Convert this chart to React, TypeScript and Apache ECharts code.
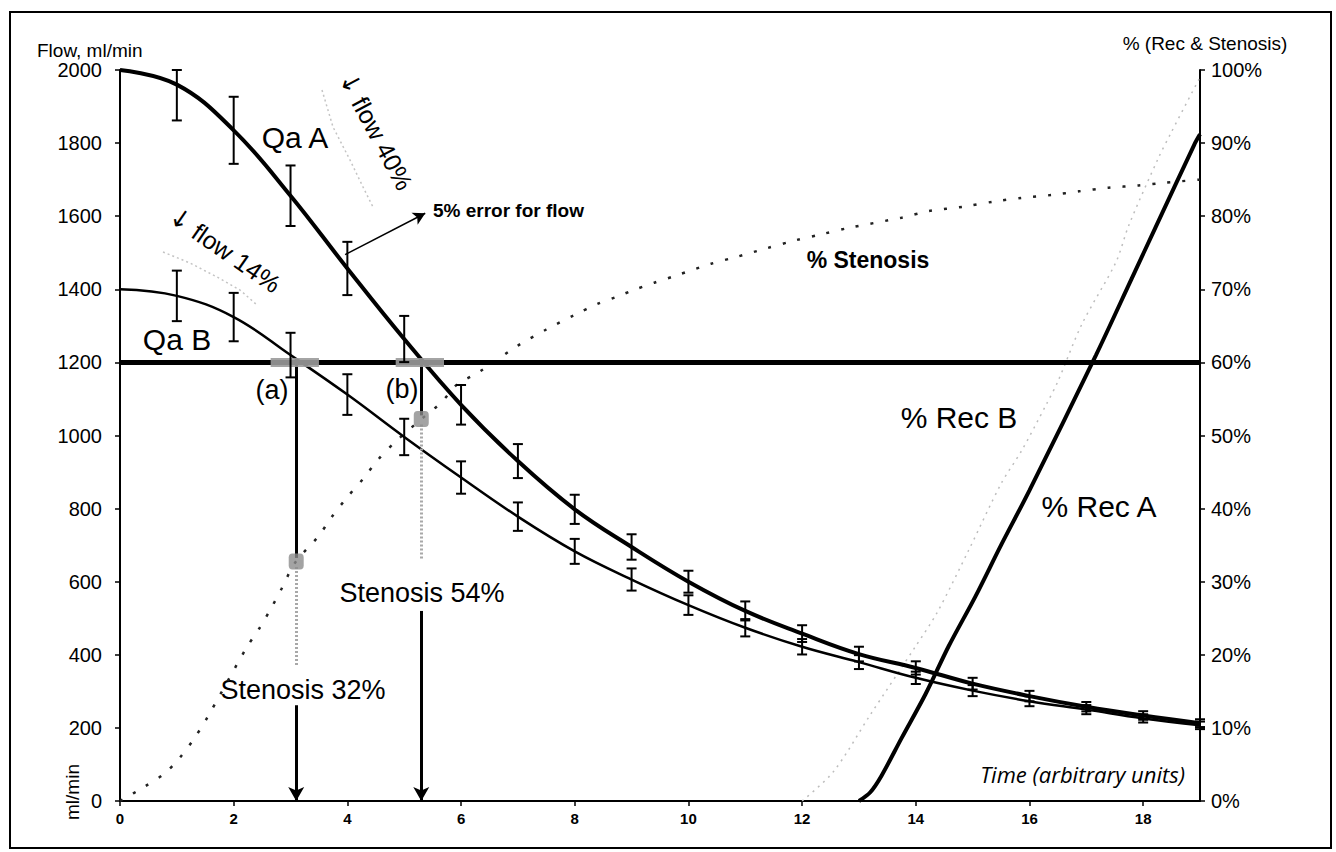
import React, { useEffect, useRef } from "react";
import * as echarts from "echarts";

// ---- data ----
const timeUnits = [0, 1, 2, 3, 4, 5, 6, 7, 8, 9, 10, 11, 12, 13, 14, 15, 16, 17, 18, 19];
const qaA = [2000, 1960, 1835, 1656, 1457, 1264, 1084, 930, 798, 695, 600, 520, 458, 402, 364, 321, 287, 258, 234, 213];
const qaB = [1400, 1382, 1324, 1220, 1112, 996, 885, 778, 683, 606, 536, 474, 422, 380, 337, 302, 273, 250, 226, 207];
const errorFraction = 0.05; // "5% error for flow"
const accessFlow = 1200;

const stenosisX = [0, 0.44, 0.79, 1.05, 1.3, 1.52, 2.22, 2.45, 2.66, 2.84, 3.08, 3.49, 3.71, 3.98, 4.28, 4.54, 4.84, 5.28, 5.65, 5.92, 6.34, 7.0, 7.5, 8.0, 8.4, 8.75, 9.0, 9.4, 9.79, 10.4, 10.83, 11.37, 11.88, 12.38, 12.82, 13.75, 14.23, 14.84, 15.37, 15.86, 16.39, 16.87, 17.39, 17.92, 18.4, 19];
const stenosisPct = [0, 2.0, 3.8, 5.9, 8.5, 11.2, 20.9, 23.6, 26.4, 29.0, 32.6, 36.2, 38.7, 41.4, 44.1, 46.7, 49.1, 52.1, 54.5, 56.9, 58.8, 62.3, 64.5, 66.5, 68.0, 69.0, 69.8, 70.9, 71.9, 73.5, 74.4, 75.6, 76.7, 77.6, 78.4, 79.8, 80.7, 81.3, 82.0, 82.5, 82.9, 83.4, 83.9, 84.2, 84.6, 85.0];

const recAX = [13, 13.2, 13.4, 13.75, 14.17, 14.58, 15.05, 15.5, 16.0, 17.17, 17.8, 18.22, 18.9, 19];
const recAPct = [0, 1.2, 3.5, 8.6, 14.6, 21.2, 28.0, 35.0, 42.5, 61.0, 71.5, 78.5, 89.8, 91.2];

const recBX = [12, 12.55, 13.2, 14.0, 14.37, 14.93, 15.5, 15.86, 16.3, 16.5, 16.92, 17.52, 17.75, 18.27, 18.49, 19];
const recBPct = [0, 4.0, 11.8, 21.2, 25.7, 34.3, 43.4, 47.9, 54.3, 57.4, 65.2, 73.7, 78.8, 88.0, 91.4, 99.0];

// drop-down markers at points (a) and (b)
const dropA = { x: 3.1, stenosisFlow: 655, greyEnd: 368, arrowStart: 262 };
const dropB = { x: 5.3, stenosisFlow: 1045, greyEnd: 660, arrowStart: 520 };
const blobA = [2.65, 3.5];
const blobB = [4.85, 5.7];
const errorArrow = [[3.96, 1495], [5.37, 1608]];

const FONT = "'Liberation Sans', Arial, 'DejaVu Sans', sans-serif";

export default function App() {
  const ref = useRef<HTMLDivElement>(null);

  useEffect(() => {
    if (!ref.current) return;
    const chart = echarts.init(ref.current, undefined, { renderer: "svg" });

    const errData = (vals: number[]) =>
      timeUnits.slice(1).map((x, i) => [x, vals[i + 1] * (1 - errorFraction), vals[i + 1] * (1 + errorFraction)]);

    const renderErr = (params: any, api: any) => {
      const x = api.value(0);
      const lo = api.value(1);
      const hi = Math.min(api.value(2), 2000);
      const pLo = api.coord([x, lo]);
      const pHi = api.coord([x, hi]);
      const w = 5;
      const style = { stroke: "#000", lineWidth: 2 };
      return {
        type: "group",
        children: [
          { type: "line", shape: { x1: pLo[0], y1: pLo[1], x2: pHi[0], y2: pHi[1] }, style },
          { type: "line", shape: { x1: pLo[0] - w, y1: pLo[1], x2: pLo[0] + w, y2: pLo[1] }, style },
          { type: "line", shape: { x1: pHi[0] - w, y1: pHi[1], x2: pHi[0] + w, y2: pHi[1] }, style },
        ],
      };
    };

    const txt = (text: string, x: number, y: number, size: number, extra: any = {}) => ({
      type: "text",
      x,
      y,
      rotation: extra.rotation || 0,
      silent: true,
      style: {
        text,
        fill: "#000",
        fontSize: size,
        fontFamily: extra.family || FONT,
        fontWeight: extra.weight || "normal",
        fontStyle: extra.style || "normal",
        align: extra.align || "center",
        verticalAlign: "middle",
        rich: {
          ar: { fontFamily: "'DejaVu Sans', sans-serif", fontSize: size, fill: "#000" },
          t: { fontFamily: FONT, fontSize: size, fill: "#000" },
        },
      },
    });

    const option: any = {
      animation: false,
      backgroundColor: "#fff",
      grid: { left: 120, right: 136, top: 70, bottom: 51 },
      xAxis: {
        type: "value",
        min: 0,
        max: 19,
        interval: 2,
        splitLine: { show: false },
        axisLine: { lineStyle: { color: "#000", width: 2 } },
        axisTick: { show: true, length: 5, lineStyle: { color: "#000", width: 1.5 } },
        axisLabel: { showMaxLabel: false, color: "#000", fontFamily: FONT, fontWeight: "bold", fontSize: 15, margin: 10 },
      },
      yAxis: [
        {
          type: "value",
          min: 0,
          max: 2000,
          interval: 200,
          splitLine: { show: false },
          axisLine: { show: true, lineStyle: { color: "#000", width: 2 } },
          axisTick: { show: true, length: 5, lineStyle: { color: "#000", width: 1.5 } },
          axisLabel: { color: "#000", fontFamily: FONT, fontSize: 20, margin: 18, formatter: (v: number) => String(v) },
        },
        {
          type: "value",
          min: 0,
          max: 100,
          interval: 10,
          position: "right",
          splitLine: { show: false },
          axisLine: { show: true, lineStyle: { color: "#000", width: 2 } },
          axisTick: { show: true, length: 5, lineStyle: { color: "#000", width: 1.5 } },
          axisLabel: { color: "#000", fontFamily: FONT, fontSize: 20, margin: 11, formatter: "{value}%" },
        },
      ],
      series: [
        {
          name: "% Rec B",
          type: "line",
          yAxisIndex: 1,
          data: recBX.map((x, i) => [x, recBPct[i]]),
          smooth: 0.3,
          symbol: "none",
          lineStyle: { color: "#bdbdbd", width: 1.5, type: [2, 5] },
          silent: true,
        },
        {
          name: "% Stenosis",
          type: "line",
          yAxisIndex: 1,
          data: stenosisX.map((x, i) => [x, stenosisPct[i]]),
          smooth: 0.3,
          symbol: "none",
          lineStyle: { color: "#222", width: 2.5, type: [3, 12] },
          silent: true,
        },
        {
          name: "Access",
          type: "line",
          data: [[0, accessFlow], [19, accessFlow]],
          symbol: "none",
          lineStyle: { color: "#000", width: 5 },
          silent: true,
        },
        {
          name: "Drops",
          type: "line",
          data: [],
          silent: true,
          markLine: {
            silent: true,
            symbol: ["none", "none"],
            label: { show: false },
            lineStyle: { color: "#000", width: 3, type: "solid" },
            data: [
              [{ coord: [dropA.x, accessFlow] }, { coord: [dropA.x, dropA.stenosisFlow + 10] }],
              [{ coord: [dropB.x, accessFlow] }, { coord: [dropB.x, dropB.stenosisFlow + 10] }],
            ],
          },
        },
        {
          name: "Grey drops",
          type: "line",
          data: [],
          silent: true,
          markLine: {
            silent: true,
            symbol: ["none", "none"],
            label: { show: false },
            lineStyle: { color: "#a8a8a8", width: 3, type: [2, 2] },
            data: [
              [{ coord: [dropA.x, dropA.stenosisFlow - 15] }, { coord: [dropA.x, dropA.greyEnd] }],
              [{ coord: [dropB.x, dropB.stenosisFlow - 15] }, { coord: [dropB.x, dropB.greyEnd] }],
            ],
          },
        },
        {
          name: "Arrows",
          type: "line",
          data: [],
          silent: true,
          markLine: {
            silent: true,
            symbol: ["none", "arrow"],
            symbolSize: [12, 14],
            label: { show: false },
            lineStyle: { color: "#000", width: 3, type: "solid" },
            data: [
              [{ coord: [dropA.x, dropA.arrowStart] }, { coord: [dropA.x, 0] }],
              [{ coord: [dropB.x, dropB.arrowStart] }, { coord: [dropB.x, 0] }],
            ],
          },
        },
        {
          name: "Error arrow",
          type: "line",
          data: [],
          silent: true,
          markLine: {
            silent: true,
            symbol: ["none", "arrow"],
            symbolSize: [10, 12],
            label: { show: false },
            lineStyle: { color: "#000", width: 1.5, type: "solid" },
            data: [[{ coord: errorArrow[0] }, { coord: errorArrow[1] }]],
          },
        },
        {
          name: "Qa B",
          type: "line",
          data: timeUnits.map((x, i) => [x, qaB[i]]),
          smooth: 0.4,
          symbol: "none",
          lineStyle: { color: "#000", width: 2.5 },
          silent: true,
        },
        {
          name: "Qa A",
          type: "line",
          data: timeUnits.map((x, i) => [x, qaA[i]]),
          smooth: 0.4,
          symbol: "none",
          lineStyle: { color: "#000", width: 4 },
          silent: true,
        },
        {
          name: "Err A",
          type: "custom",
          renderItem: renderErr,
          data: errData(qaA),
          encode: { x: 0, y: [1, 2] },
          silent: true,
          z: 5,
        },
        {
          name: "Err B",
          type: "custom",
          renderItem: renderErr,
          data: errData(qaB),
          encode: { x: 0, y: [1, 2] },
          silent: true,
          z: 5,
        },
        {
          name: "Blobs line",
          type: "line",
          data: [],
          silent: true,
          z: 6,
          markLine: {
            silent: true,
            symbol: ["none", "none"],
            label: { show: false },
            lineStyle: { color: "#9a9a9a", width: 9, type: "solid", opacity: 0.9 },
            data: [
              [{ coord: [blobA[0], accessFlow] }, { coord: [blobA[1], accessFlow] }],
              [{ coord: [blobB[0], accessFlow] }, { coord: [blobB[1], accessFlow] }],
            ],
          },
        },
        {
          name: "Blobs",
          type: "scatter",
          data: [[dropA.x, dropA.stenosisFlow], [dropB.x, dropB.stenosisFlow]],
          symbol: "roundRect",
          symbolSize: [15, 16],
          itemStyle: { color: "#8c8c8c" },
          silent: true,
          z: 6,
        },
        {
          name: "% Rec A",
          type: "line",
          yAxisIndex: 1,
          data: recAX.map((x, i) => [x, recAPct[i]]),
          smooth: 0.3,
          symbol: "none",
          lineStyle: { color: "#000", width: 4 },
          silent: true,
          z: 7,
        },
      ],
      graphic: [
        {
          type: "rect",
          shape: { x: 10, y: 12, width: 1321, height: 836 },
          style: { fill: "none", stroke: "#000", lineWidth: 2 },
          silent: true,
        },
        {
          type: "polyline",
          shape: { points: [[322, 90], [333, 127], [350, 160], [363, 187], [373, 207]] },
          style: { fill: "none", stroke: "#c4c4c4", lineWidth: 1.5, lineDash: [2, 3] },
          silent: true,
        },
        {
          type: "polyline",
          shape: { points: [[163, 252], [190, 263], [217, 277], [240, 290], [257, 305]] },
          style: { fill: "none", stroke: "#c4c4c4", lineWidth: 1.5, lineDash: [2, 3] },
          silent: true,
        },
        txt("Flow, ml/min", 37, 50, 19, { align: "left" }),
        txt("% (Rec & Stenosis)", 1205, 43, 19),
        txt("ml/min", 72, 792, 19, { rotation: Math.PI / 2 }),
        txt("Qa A", 295, 137, 30),
        txt("Qa B", 177, 339, 30),
        txt("(a)", 272, 390, 27),
        txt("(b)", 402, 389, 27),
        txt("{ar|\u2193}{t| flow 40%}", 376, 131, 25, { rotation: (-62 * Math.PI) / 180 }),
        txt("{ar|\u2193}{t| flow 14%}", 225, 250, 25, { rotation: (-34.6 * Math.PI) / 180 }),
        txt("5% error for flow", 433, 210, 19, { align: "left", weight: "bold" }),
        txt("% Stenosis", 868, 260, 23, { weight: "bold" }),
        txt("Stenosis 32%", 303, 690, 27),
        txt("Stenosis 54%", 422, 593, 27),
        txt("% Rec B", 959, 417, 30),
        txt("% Rec A", 1099, 506, 30),
        txt("Time (arbitrary units)", 1185, 774, 22, { align: "right", style: "italic", family: "'Open Sans', 'DejaVu Sans', sans-serif" }),
      ],
    };

    chart.setOption(option);
    return () => chart.dispose();
  }, []);

  return (
    <div
      ref={ref}
      style={{ position: "fixed", left: 0, top: 0, width: 1336, height: 852, background: "#fff" }}
    />
  );
}
